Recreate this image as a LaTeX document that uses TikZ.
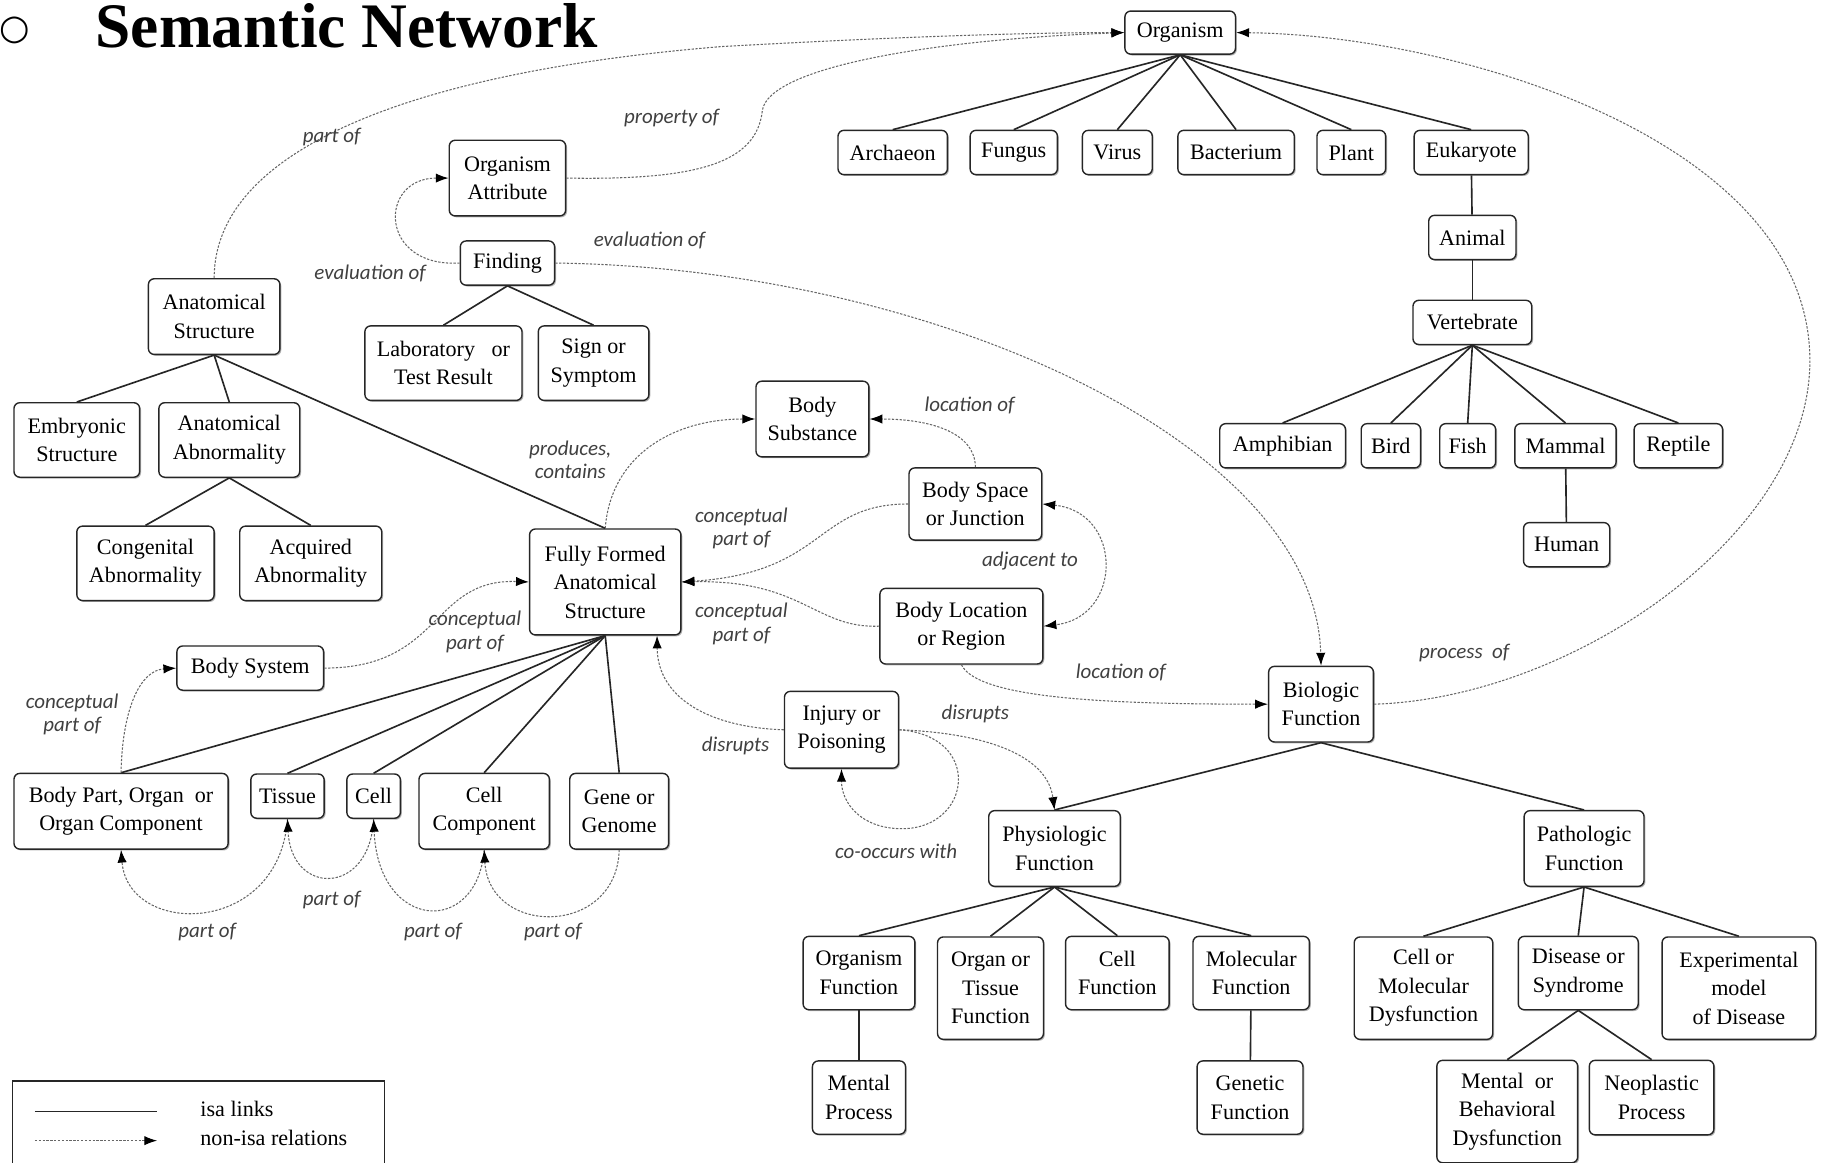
\documentclass[tikz,border=0pt]{standalone}
\usepackage{fontspec}
\setmainfont{Liberation Serif}
\newfontfamily\lblfont{Carlito}
\newfontfamily\symfont{DejaVu Sans}
\usetikzlibrary{arrows.meta,shadows}
\newcommand\nfnt{\fontsize{19}{24.5}\selectfont}
\newcommand\lfnt{\lblfont\itshape\fontsize{18}{20}\selectfont}
\newcommand\bx[6]{\node[nb,minimum width=#4,minimum height=#5] (#1) at (#2,#3) {#6};}
\begin{document}
\begin{tikzpicture}[x=1pt,y=-1pt,
  nb/.style={draw=black!85,line width=1.2pt,rounded corners=5pt,align=center,inner sep=2pt,font=\nfnt,fill=white,
    general shadow={fill=black!30,shadow xshift=1.2pt,shadow yshift=-1.2pt}},
  isa/.style={draw=black!85,line width=1.4pt},
  rel/.style={draw=black!60,line width=0.9pt,dash pattern=on 2pt off 1.3pt,-{Latex[length=11pt,width=8pt,black]}},
  relb/.style={draw=black!60,line width=0.9pt,dash pattern=on 2pt off 1.3pt,{Latex[length=11pt,width=8pt,black]}-{Latex[length=11pt,width=8pt,black]}},
  lbl/.style={font=\lfnt,text=black!75,align=center,inner sep=1pt}]
\useasboundingbox (0,0) rectangle (1568,999);
\fill[white] (0,0) rectangle (1568,999);
% title
\node[anchor=center,font=\symfont\fontsize{30}{30}\selectfont,inner sep=0] (bul) at (13,26) {○};
\node[anchor=base west,font=\fontsize{54.5}{60}\selectfont\bfseries,inner sep=0] (title) at (82,41) {Semantic Network};
% nodes
\bx{org}{1014}{28}{95}{37}{Organism}
\bx{arch}{767}{131}{94}{38}{Archaeon}
\bx{fung}{871}{131}{75}{38}{Fungus}
\bx{vir}{960}{131}{60}{38}{Virus}
\bx{bact}{1062}{131}{100}{38}{Bacterium}
\bx{plant}{1161}{131}{59}{38}{Plant}
\bx{euk}{1264}{131}{98}{38}{Eukaryote}
\bx{anim}{1265}{204}{75}{38}{Animal}
\bx{vert}{1265}{277}{102}{38}{Vertebrate}
\bx{amph}{1102}{383}{108}{38}{Amphibian}
\bx{bird}{1195}{383}{51}{38}{Bird}
\bx{fish}{1261}{383}{48}{38}{Fish}
\bx{mamm}{1345}{383}{87}{38}{Mammal}
\bx{rept}{1442}{383}{76}{38}{Reptile}
\bx{hum}{1346}{468}{74}{38}{Human}
\bx{oa}{436}{153}{100}{65}{Organism\\Attribute}
\bx{fin}{436}{226}{81}{38}{Finding}
\bx{as}{184}{272}{113}{65}{Anatomical\\Structure}
\bx{lab}{381}{312}{135}{64}{Laboratory\ \ \ or\\Test Result}
\bx{sign}{510}{312}{95}{64}{Sign or\\Symptom}
\bx{emb}{66}{378}{108}{64}{Embryonic\\Structure}
\bx{aa}{197}{378}{121}{64}{Anatomical\\Abnormality}
\bx{cong}{125}{484}{118}{64}{Congenital\\Abnormality}
\bx{acq}{267}{484}{122}{64}{Acquired\\Abnormality}
\bx{bs}{698}{360}{97}{65}{Body\\Substance}
\bx{bsj}{838}{433}{114}{62}{Body Space\\or Junction}
\bx{ffas}{520}{500}{130}{91}{Fully Formed\\Anatomical\\Structure}
\bx{blr}{826}{538}{140}{65}{Body Location\\or Region}
\bx{bsys}{215}{574}{126}{38}{Body System}
\bx{inj}{723}{627}{98}{66}{Injury or\\Poisoning}
\bx{bf}{1135}{605}{90}{65}{Biologic\\Function}
\bx{bp}{104}{697}{184}{65}{Body Part, Organ\ \ or\\Organ Component}
\bx{tis}{247}{684}{63}{38}{Tissue}
\bx{cell}{321}{684}{46}{38}{Cell}
\bx{cc}{416}{697}{112}{65}{Cell\\Component}
\bx{gg}{532}{697}{85}{65}{Gene or\\Genome}
\bx{phys}{906}{729}{113}{65}{Physiologic\\Function}
\bx{path}{1361}{729}{103}{65}{Pathologic\\Function}
\bx{orgf}{738}{836}{96}{63}{Organism\\Function}
\bx{otf}{851}{849}{91}{88}{Organ or\\Tissue\\Function}
\bx{cf}{960}{836}{89}{63}{Cell\\Function}
\bx{mf}{1075}{836}{100}{63}{Molecular\\Function}
\bx{mp}{738}{943}{80}{63}{Mental\\Process}
\bx{gf}{1074}{943}{91}{63}{Genetic\\Function}
\bx{cmd}{1223}{849}{119}{88}{Cell or\\Molecular\\Dysfunction}
\bx{ds}{1356}{836}{103}{63}{Disease or\\Syndrome}
\bx{exp}{1494}{849}{132}{88}{Experimental\\model\\of Disease}
\bx{mbd}{1295}{955}{121}{88}{Mental\ \ or\\Behavioral\\Dysfunction}
\bx{neo}{1419}{943}{107}{64}{Neoplastic\\Process}
% isa links
\foreach \c in {arch,fung,vir,bact,plant,euk} \draw[isa] (org.south) -- (\c.north);
\draw[isa] (euk) -- (anim);
\draw[isa] (anim) -- (vert);
\foreach \c in {amph,bird,fish,mamm,rept} \draw[isa] (vert.south) -- (\c.north);
\draw[isa] (mamm) -- (hum);
\foreach \c in {lab,sign} \draw[isa] (fin.south) -- (\c.north);
\foreach \c in {emb,aa,ffas} \draw[isa] (as.south) -- (\c.north);
\foreach \c in {cong,acq} \draw[isa] (aa.south) -- (\c.north);
\foreach \c in {bp,tis,cell,cc,gg} \draw[isa] (ffas.south) -- (\c.north);
\foreach \c in {phys,path} \draw[isa] (bf.south) -- (\c.north);
\foreach \c in {orgf,otf,cf,mf} \draw[isa] (phys.south) -- (\c.north);
\draw[isa] (orgf) -- (mp);
\draw[isa] (mf) -- (gf);
\foreach \c in {cmd,ds,exp} \draw[isa] (path.south) -- (\c.north);
\foreach \c in {mbd,neo} \draw[isa] (ds.south) -- (\c.north);
% non-isa relations
\draw[rel] (as.north) .. controls (184,130) and (350,62) .. (620,40) .. controls (800,30) and (900,28) .. (org.west);
\draw[rel] (oa.east) .. controls (600,155) and (650,140) .. (655,95) .. controls (660,58) and (800,34) .. (org.west);
\draw[rel] (fin.west) .. controls (325,230) and (325,153) .. (oa.west);
\draw[rel] (fin.east) .. controls (800,230) and (1130,380) .. (bf.north);
\draw[rel] (bf.east) .. controls (1350,600) and (1555,460) .. (1555,310) .. controls (1555,120) and (1250,30) .. (org.east);
\draw[rel] (ffas.north) .. controls (525,390) and (580,360) .. (bs.west);
\draw[rel] (bsj.north) .. controls (838,372) and (800,360) .. (bs.east);
\draw[rel] (bsj.west) .. controls (700,433) and (710,492) .. (ffas.east);
\draw[rel] (blr.west) .. controls (700,540) and (690,498) .. (ffas.east);
\draw[relb] (bsj.east) .. controls (965,440) and (965,530) .. (blr.east);
\draw[rel] (blr.south) .. controls (840,600) and (950,605) .. (bf.west);
\draw[rel] (bsys.east) .. controls (380,574) and (370,497) .. (ffas.west);
\draw[rel] (bp.north) .. controls (105,610) and (120,576) .. (bsys.west);
\draw[rel] (inj.west) .. controls (610,625) and (565,600) .. (ffas.-46);
\draw[rel] (inj.east) .. controls (850,630) and (900,650) .. (phys.north);
\draw[rel] (inj.east) .. controls (845,632) and (835,712) .. (775,712) .. controls (740,712) and (723,690) .. (inj.south);
\draw[rel] (tis.south) .. controls (240,805) and (110,805) .. (bp.south);
\draw[rel] (cell.south) .. controls (318,770) and (250,770) .. (tis.south);
\draw[rel] (cc.south) .. controls (410,805) and (325,800) .. (cell.south);
\draw[rel] (gg.south) .. controls (530,805) and (420,805) .. (cc.south);
% labels
\node[lbl] (l1) at (285,118) {part of};
\node[lbl] (l2) at (577,101) {property of};
\node[lbl] (l3) at (318,235) {evaluation of};
\node[lbl] (l4) at (558,207) {evaluation of};
\node[lbl] (l5) at (490,395) {produces,\\contains};
\node[lbl] (l6) at (833,348) {location of};
\node[lbl] (l7) at (637,454) {conceptual\\part of};
\node[lbl] (l8) at (885,482) {adjacent to};
\node[lbl] (l9) at (637,536) {conceptual\\part of};
\node[lbl] (l10) at (963,578) {location of};
\node[lbl] (l11) at (1258,561) {process\ \ of};
\node[lbl] (l12) at (408,543) {conceptual\\part of};
\node[lbl] (l13) at (62,614) {conceptual\\part of};
\node[lbl] (l14) at (632,641) {disrupts};
\node[lbl] (l15) at (838,613) {disrupts};
\node[lbl] (l16) at (770,731) {co-occurs with};
\node[lbl] (l17) at (178,801) {part of};
\node[lbl] (l18) at (285,773) {part of};
\node[lbl] (l19) at (372,801) {part of};
\node[lbl] (l20) at (475,801) {part of};
% legend
\node[draw=black!85,line width=1.2pt,minimum width=320,minimum height=90,anchor=north west,inner sep=0] (leg) at (10,928) {};
\coordinate (la1) at (30,955);
\coordinate (la2) at (135,955);
\coordinate (lb1) at (30,980);
\coordinate (lb2) at (135,980);
\draw[isa] (la1) -- (la2);
\draw[rel] (lb1) -- (lb2);
\node[anchor=west,font=\nfnt,inner sep=0] (lt1) at (172,953) {isa links};
\node[anchor=west,font=\nfnt,inner sep=0] (lt2) at (172,978) {non-isa relations};
\end{tikzpicture}
\end{document}
